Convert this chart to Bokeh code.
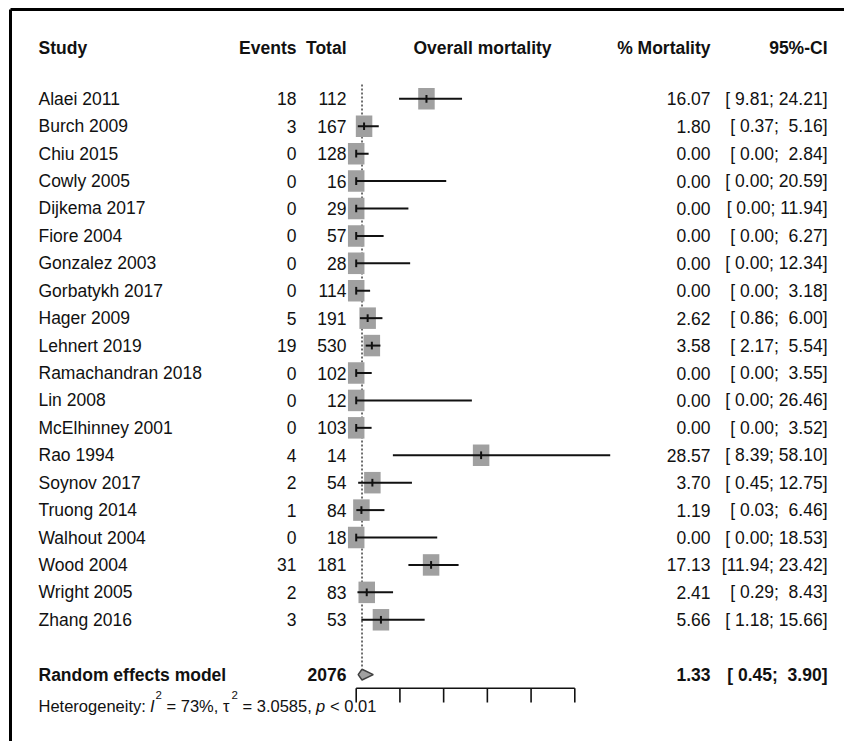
from bokeh.plotting import figure
from bokeh.models import Range1d, ColumnDataSource
from bokeh.core.properties import value
from bokeh.embed import file_html
from bokeh.resources import INLINE

# ---------------- data ----------------
studies = ["Alaei 2011", "Burch 2009", "Chiu 2015", "Cowly 2005", "Dijkema 2017",
           "Fiore 2004", "Gonzalez 2003", "Gorbatykh 2017", "Hager 2009", "Lehnert 2019",
           "Ramachandran 2018", "Lin 2008", "McElhinney 2001", "Rao 1994", "Soynov 2017",
           "Truong 2014", "Walhout 2004", "Wood 2004", "Wright 2005", "Zhang 2016"]
events = [18, 3, 0, 0, 0, 0, 0, 0, 5, 19, 0, 0, 0, 4, 2, 1, 0, 31, 2, 3]
totals = [112, 167, 128, 16, 29, 57, 28, 114, 191, 530, 102, 12, 103, 14, 54, 84, 18, 181, 83, 53]
mortality = [16.07, 1.80, 0.00, 0.00, 0.00, 0.00, 0.00, 0.00, 2.62, 3.58,
             0.00, 0.00, 0.00, 28.57, 3.70, 1.19, 0.00, 17.13, 2.41, 5.66]
ci_lower = [9.81, 0.37, 0.00, 0.00, 0.00, 0.00, 0.00, 0.00, 0.86, 2.17,
            0.00, 0.00, 0.00, 8.39, 0.45, 0.03, 0.00, 11.94, 0.29, 1.18]
ci_upper = [24.21, 5.16, 2.84, 20.59, 11.94, 6.27, 12.34, 3.18, 6.00, 5.54,
            3.55, 26.46, 3.52, 58.10, 12.75, 6.46, 18.53, 23.42, 8.43, 15.66]
pooled_label = "Random effects model"
pooled_total = 2076
pooled_est = 1.33
pooled_lower = 0.45
pooled_upper = 3.90
heterogeneity = {"I2": "73%", "tau2": "3.0585", "p": "< 0.01"}
axis_ticks = [0, 10, 20, 30, 40, 50]

FONT = "Liberation Sans"
W, H = 844, 741
NB = "\u00a0"

def ci_str(a, b):
    return ("[%5.2f; %5.2f]" % (a, b)).replace(" ", NB)

# layout helpers: pixel -> data (positions only)
X0, XS = 355.7, 4.372     # pixel of value 0 and pixels per unit
Y0, YS = 98.3, 27.42      # pixel of first row and pixels per row

def X(px):
    return (px - X0) / XS

def Y(py):
    return -(py - Y0) / YS

p = figure(width=W, height=H, output_backend="svg", toolbar_location=None,
           x_range=Range1d(X(0), X(W)), y_range=Range1d(Y(H), Y(0)),
           min_border=0, min_border_left=0, min_border_right=0,
           min_border_top=0, min_border_bottom=0)
p.axis.visible = False
p.grid.visible = False
p.outline_line_color = None
p.background_fill_color = "white"
p.border_fill_color = "white"

n = len(studies)
rows = [-i for i in range(n)]

# frame border lines (top and left)
p.segment(x0=[X(10), X(10)], y0=[Y(9), Y(9)], x1=[X(W), X(10)], y1=[Y(9), Y(H)],
          line_color="black", line_width=3)

# reference (dotted) line at pooled estimate
p.segment(x0=[pooled_est], y0=[Y(84)], x1=[pooled_est], y1=[Y(668)],
          line_color="#222222", line_width=1.3, line_dash="2 2")

src = ColumnDataSource(dict(study=studies, ev=[str(e) for e in events],
                            tot=[str(t) for t in totals], est=mortality,
                            lo=ci_lower, hi=ci_upper, y=rows,
                            ytop=[r + 0.14 for r in rows], ybot=[r - 0.14 for r in rows],
                            est_txt=["%.2f" % m for m in mortality],
                            ci_txt=[ci_str(a, b) for a, b in zip(ci_lower, ci_upper)]))

# boxes
p.rect(x="est", y="y", width=16.5, height=21.5, width_units="screen", height_units="screen",
       fill_color="#a0a0a0", line_color=None, source=src)
# CI lines
p.segment(x0="lo", y0="y", x1="hi", y1="y", line_color="#111111", line_width=2, source=src)
# estimate ticks
p.segment(x0="est", y0="ybot", x1="est", y1="ytop", line_color="#111111", line_width=2, source=src)

# pooled diamond
dh = 5.4 / YS
yd = -21
p.patch(x=[pooled_lower, pooled_est, pooled_upper, pooled_est],
        y=[yd, yd + dh, yd, yd - dh], fill_color="#a0a0a0", line_color="#404040", line_width=1.5)

# x axis (drawn at bottom of plot area)
ya = Y(687.7)
yt = Y(702)
p.segment(x0=[axis_ticks[0]], y0=[ya], x1=[axis_ticks[-1]], y1=[ya], line_color="#111111", line_width=1.6)
p.segment(x0=axis_ticks, y0=[ya] * len(axis_ticks), x1=axis_ticks, y1=[yt] * len(axis_ticks),
          line_color="#111111", line_width=1.6)

FS = "17.5px"
common = dict(text_font=value(FONT), text_font_size=FS, text_baseline="middle", text_color="#111111")

# headers
yh = Y(47)
p.text(x=[X(38)], y=[yh], text=["Study"], text_align="left", text_font_style="bold", **common)
p.text(x=[X(296), X(346), X(710), X(827)], y=[yh] * 4,
       text=["Events", "Total", "% Mortality", "95%-CI"], text_align="right",
       text_font_style="bold", **common)
p.text(x=[X(482)], y=[yh], text=["Overall mortality"], text_align="center",
       text_font_style="bold", **common)

# study rows
p.text(x=X(38), y="y", text="study", text_align="left", source=src, **common)
p.text(x=X(296), y="y", text="ev", text_align="right", source=src, **common)
p.text(x=X(346), y="y", text="tot", text_align="right", source=src, **common)
p.text(x=X(710), y="y", text="est_txt", text_align="right", source=src, **common)
p.text(x=X(827), y="y", text="ci_txt", text_align="right", source=src, **common)

# pooled row
p.text(x=[X(38)], y=[yd], text=[pooled_label], text_align="left", text_font_style="bold", **common)
p.text(x=[X(346), X(710), X(827)], y=[yd] * 3,
       text=[str(pooled_total), "%.2f" % pooled_est, ci_str(pooled_lower, pooled_upper)],
       text_align="right", text_font_style="bold", **common)

# heterogeneity line
hs = dict(text_font=value(FONT), text_font_size="16.5px", text_baseline="middle",
          text_color="#111111", text_align="left")
yhet = Y(705)
ysup = Y(694)
p.text(x=[X(38), X(166), X(242), X(329.5)], y=[yhet] * 4,
       text=["Heterogeneity:", "= " + heterogeneity["I2"] + ",", "= " + heterogeneity["tau2"] + ",",
             heterogeneity["p"].replace(" ", NB)], **hs)
p.text(x=[X(222.5)], y=[yhet], text=["\u03c4"], **hs)
p.text(x=[X(149.5), X(315.5)], y=[yhet] * 2, text=["I", "p"], text_font_style="italic", **hs)
p.text(x=[X(155), X(231)], y=[ysup] * 2, text=["2", "2"], text_align="left",
       text_font=value(FONT), text_font_size="11.5px", text_baseline="middle", text_color="#111111")

open("out.html", "w").write(file_html(p, INLINE))
